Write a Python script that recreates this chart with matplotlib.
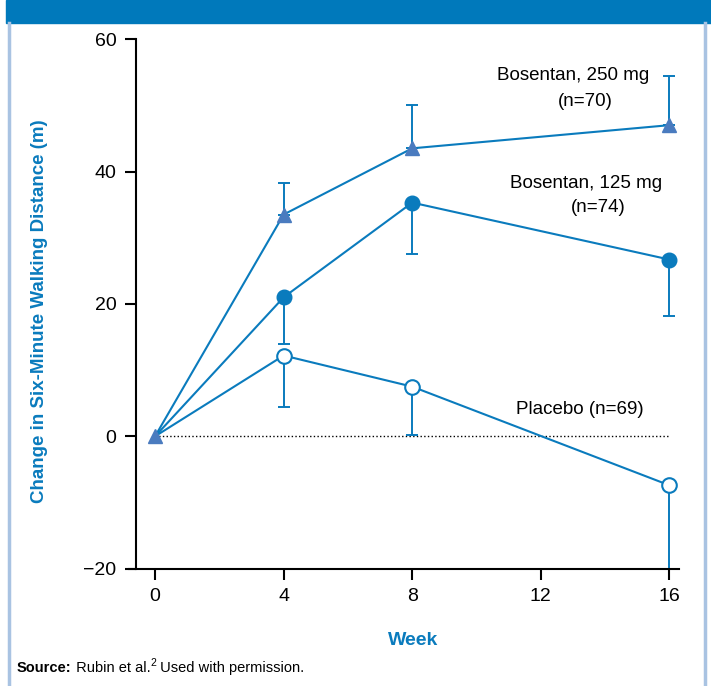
import matplotlib.pyplot as plt
from matplotlib.patches import Rectangle
from matplotlib.lines import Line2D

plt.rcParams['font.family'] = ['Liberation Sans', 'DejaVu Sans']

# data
weeks = [0, 4, 8, 16]
bos250 = [0, 33.5, 43.5, 47.0]
bos250_err_up = [0, 4.7, 6.5, 7.5]
bos125 = [0, 21.0, 35.3, 26.7]
bos125_err_down = [0, 7.0, 7.8, 8.6]
placebo = [0, 12.2, 7.5, -7.4]
placebo_err_down = [0, 7.8, 7.3, 12.6]

xticks = [0, 4, 8, 12, 16]
yticks = [-20, 0, 20, 40, 60]

blue = '#0a7bbd'
tri_blue = '#4a7bbf'
frame_blue = '#a9c3e2'

fig = plt.figure(figsize=(7.11, 6.86), dpi=100)
ax = fig.add_axes([0.191, 0.171, 0.764, 0.772])

# frame around the figure
fig.patches.append(Rectangle((0.008, 0.967), 0.992, 0.033, transform=fig.transFigure,
                             color='#0079bb', zorder=0))
fig.lines.append(Line2D([0.012, 0.012], [0, 0.967], transform=fig.transFigure,
                        color=frame_blue, lw=2.5))
fig.lines.append(Line2D([0.992, 0.992], [0, 0.967], transform=fig.transFigure,
                        color=frame_blue, lw=2.5))

# zero reference line
ax.plot([0, 16], [0, 0], color='black', linestyle=':', linewidth=1, zorder=1)

# placebo
ax.errorbar(weeks[1:], placebo[1:], yerr=[placebo_err_down[1:], [0, 0, 0]],
            fmt='none', ecolor=blue, elinewidth=1.4, capsize=4.5, capthick=1.4, zorder=2)
ax.plot(weeks, placebo, color=blue, lw=1.5, zorder=3)
ax.plot(weeks[1:], placebo[1:], 'o', ms=10.5, mfc='white', mec=blue, mew=1.5,
        linestyle='none', zorder=4)

# bosentan 125 mg
ax.errorbar(weeks[1:], bos125[1:], yerr=[bos125_err_down[1:], [0, 0, 0]],
            fmt='none', ecolor=blue, elinewidth=1.4, capsize=4.5, capthick=1.4, zorder=2)
ax.plot(weeks, bos125, color=blue, lw=1.5, zorder=3)
ax.plot(weeks[1:], bos125[1:], 'o', ms=10.5, color=blue, linestyle='none', zorder=4)

# bosentan 250 mg
ax.errorbar(weeks[1:], bos250[1:], yerr=[[0, 0, 0], bos250_err_up[1:]],
            fmt='none', ecolor=blue, elinewidth=1.4, capsize=4.5, capthick=1.4, zorder=2)
ax.plot(weeks, bos250, color=blue, lw=1.5, zorder=3)
ax.plot(weeks, bos250, '^', ms=9.5, color=tri_blue, linestyle='none', zorder=5)

# series labels
ax.text(13.0, 54.5, 'Bosentan, 250 mg', ha='center', va='center', fontsize=13.5)
ax.text(13.4, 50.6, '(n=70)', ha='center', va='center', fontsize=13.5)
ax.text(13.4, 38.2, 'Bosentan, 125 mg', ha='center', va='center', fontsize=13.5)
ax.text(13.8, 34.6, '(n=74)', ha='center', va='center', fontsize=13.5)
ax.text(13.2, 4.1, 'Placebo (n=69)', ha='center', va='center', fontsize=13.5)

# axes styling
ax.set_xlim(-0.6, 16.3)
ax.set_ylim(-20, 60)
ax.set_xticks(xticks)
ax.set_yticks(yticks)
ax.set_yticklabels(['\u221220', '0', '20', '40', '60'])
ax.tick_params(axis='both', direction='out', length=8, width=1.5, labelsize=14, pad=6)
ax.spines['top'].set_visible(False)
ax.spines['right'].set_visible(False)
ax.spines['left'].set_linewidth(1.5)
ax.spines['bottom'].set_linewidth(1.5)
ax.spines['bottom'].set_bounds(-0.8, 16.3)

fig.text(0.056, 0.547, 'Change in Six-Minute Walking Distance (m)', rotation=90,
         ha='center', va='center', fontsize=13.5, fontweight='bold', color=blue)
fig.text(0.581, 0.066, 'Week', ha='center', va='center', fontsize=14,
         fontweight='bold', color=blue)

# source line
t1 = fig.text(0.024, 0.026, 'Source:', ha='left', va='center', fontsize=10.5,
              fontweight='bold')
t2 = plt.annotate(' Rubin et al.', xy=(1, 0), xycoords=t1, va='bottom', ha='left',
                  fontsize=10.5, annotation_clip=False)
plt.annotate('2', xy=(1, 0.5), xycoords=t2, va='bottom', ha='left',
             fontsize=7.5, annotation_clip=False)
plt.annotate(' Used with permission.', xy=(1, 0), xycoords=t2, xytext=(4, 0),
             textcoords='offset points', va='bottom', ha='left', fontsize=10.5,
             annotation_clip=False)

fig.savefig('out.png', dpi=100)
